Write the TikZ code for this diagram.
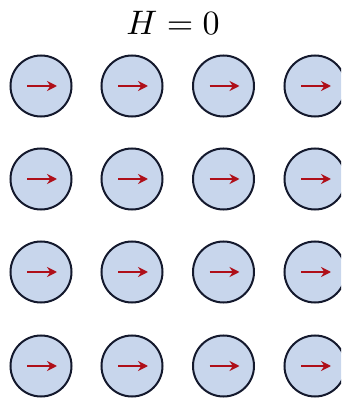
\documentclass[tikz,border=0pt]{standalone}
\usetikzlibrary{arrows.meta}
\definecolor{spinfill}{RGB}{200,214,236}
\definecolor{spinedge}{RGB}{20,25,45}
\definecolor{spinarrow}{RGB}{175,15,25}
\tikzset{
  spin/.style={circle, draw=spinedge, fill=spinfill, line width=2pt, minimum size=61pt, inner sep=0pt},
  spinarr/.style={spinarrow, line width=2.6pt, -{Stealth[length=10pt,width=10pt]}}
}
\begin{document}
\begin{tikzpicture}[x=1pt,y=1pt]
\useasboundingbox (0,0) rectangle (341,400);
\clip (0,0) rectangle (341,400);
\node[scale=3.4, inner sep=0pt] (title) at (173,377) {$H=0$};
\foreach \c/\x in {1/41,2/132,3/223.5,4/315} {
  \foreach \r/\y in {1/314,2/221,3/128,4/34} {
    \node[spin] (s\r\c) at (\x,\y) {};
    \coordinate (a\r\c) at ([xshift=-14pt]s\r\c.center);
    \coordinate (b\r\c) at ([xshift=16pt]s\r\c.center);
    \draw[spinarr] (a\r\c) -- (b\r\c);
  }
}
\end{tikzpicture}
\end{document}
